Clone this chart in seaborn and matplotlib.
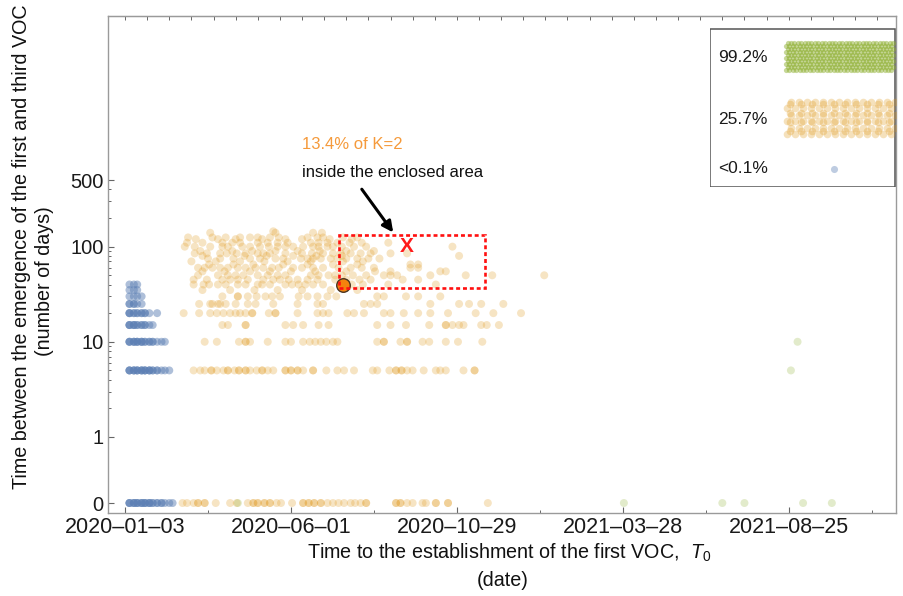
import numpy as np
import pandas as pd
import matplotlib
matplotlib.use("Agg")
import matplotlib.pyplot as plt
import matplotlib.dates as mdates
import matplotlib.ticker as mticker
from matplotlib.patches import Rectangle
import seaborn as sns

sns.set_style("white")
plt.rcParams["font.family"] = ["Liberation Sans", "DejaVu Sans"]
plt.rcParams["mathtext.fontset"] = "custom"
plt.rcParams["mathtext.rm"] = "Liberation Sans"
plt.rcParams["mathtext.it"] = "Liberation Sans:italic"

START = pd.Timestamp("2020-01-03")

BLUE = "#5E81B5"
ORANGE = "#E19C24"
GREEN = "#8FB032"

# ---------------------------------------------------------------------------
# Simulated runs: T0 (days after 2020-01-03) grouped by the gap (days) between
# the emergence of the first and third VOC.  Repeated entries are stacked runs.
# ---------------------------------------------------------------------------
blue_levels = [0, 5, 10, 15, 20, 25, 30, 35, 40]
blue_t0 = [
    [4, 4, 4, 8, 8, 8, 11, 11, 11, 15, 15, 15, 18, 18, 18, 22, 22, 22, 25, 25, 29, 29, 33, 33, 36, 40, 43],
    [4, 4, 4, 8, 8, 8, 11, 11, 11, 15, 15, 15, 18, 18, 18, 22, 22, 22, 25, 25, 29, 29, 33, 36, 40],
    [4, 4, 4, 8, 8, 8, 11, 11, 11, 15, 15, 15, 18, 18, 22, 22, 25, 25, 29, 33, 36],
    [4, 4, 4, 8, 8, 8, 11, 11, 15, 15, 18, 18, 22, 25],
    [4, 4, 4, 8, 8, 11, 11, 15, 15, 18, 18, 22, 29],
    [4, 4, 8, 8, 11, 15],
    [4, 8, 11, 15],
    [4, 8, 11],
    [4, 8, 11],
]

orange_levels = [0, 5, 10, 15, 20, 25, 30, 35, 40, 45, 50, 55, 60, 65, 70, 75, 80, 85, 90,
                 100, 110, 120, 125, 140, 145]
orange_t0 = [
    [52, 56, 62, 66, 66, 72, 72, 82, 95, 101, 111, 116, 116, 120, 120, 126, 126, 131, 131, 137, 141,
     151, 161, 161, 166, 166, 171, 171, 177, 177, 183, 188, 193, 198, 204, 208, 213, 218, 218,
     245, 245, 249, 249, 255, 260, 269, 272, 281, 281, 292, 292, 328],
    [62, 68, 72, 78, 78, 83, 89, 93, 93, 99, 103, 103, 109, 109, 113, 119, 124, 124, 129, 134, 145,
     145, 150, 150, 156, 156, 161, 170, 170, 182, 192, 198, 207, 224, 228, 239, 245, 245, 250, 250,
     255, 260, 270, 281, 285, 290, 306, 316, 316],
    [72, 83, 103, 109, 109, 113, 129, 145, 150, 161, 167, 172, 177, 182, 188, 192, 228, 234, 234,
     249, 255, 255, 269, 275, 290, 301, 323],
    [88, 93, 109, 109, 145, 152, 161, 175, 184, 228, 240, 254, 275, 290, 290, 296, 302, 306, 322,
     327, 338],
    [53, 67, 77, 83, 89, 95, 100, 104, 109, 115, 115, 130, 136, 136, 156, 174, 179, 184, 201, 207,
     216, 234, 240, 252, 265, 276, 292, 317, 333, 358],
    [67, 77, 79, 84, 86, 91, 100, 111, 118, 134, 156, 174, 179, 216, 222, 228, 276, 302, 311, 322, 342],
    [88, 102, 102, 111, 119, 127, 133, 140, 157, 165, 174, 183, 191, 228, 234, 254, 265, 285],
    [70, 95, 117, 138, 160, 186, 210],
    [62, 71, 76, 84, 91, 102, 109, 120, 124, 131, 145, 151, 157, 163, 170, 179, 205, 215, 238, 281],
    [62, 74, 88, 95, 102, 111, 125, 134, 140, 148, 156, 165, 174, 190, 200, 212, 222, 251, 265],
    [66, 84, 93, 100, 107, 120, 129, 138, 145, 168, 175, 184, 190, 196, 206, 218, 234, 240, 246,
     276, 308, 332, 379],
    [70, 90, 113, 131, 150, 172, 200, 226, 240, 285, 290],
    [66, 72, 79, 86, 93, 102, 109, 118, 125, 133, 139, 152, 160, 170, 179, 193, 204, 214, 225, 258,
     265],
    [76, 98, 116, 143, 165, 188, 210, 258, 265],
    [60, 82, 104, 126, 147, 168, 197, 215],
    [75, 86, 98, 113, 122, 136, 143, 159, 165, 170, 177, 186, 192, 200, 210, 220, 230],
    [70, 108, 128, 152, 173, 196, 302],
    [63, 74, 86, 92, 101, 109, 120, 125, 131, 145, 160, 169, 179, 188, 195, 204, 213, 222, 240, 255],
    [68, 97, 115, 136, 156, 176, 200, 225],
    [54, 63, 77, 88, 93, 106, 113, 122, 130, 138, 145, 152, 161, 170, 175, 183, 188, 196, 207, 218, 296],
    [56, 70, 88, 97, 104, 120, 129, 138, 147, 168, 175, 183, 192, 203, 214, 238],
    [64, 84, 100, 124, 145, 160, 185, 205],
    [57, 79, 91, 104, 113, 120, 131, 139, 165, 174, 179, 197, 210],
    [77, 136, 170, 178],
    [134],
]

green_levels = [0, 5, 10]
green_t0 = [
    [102, 451, 540, 560, 613, 639],
    [602],
    [608],
]

# highlighted K=2 run and the enclosed region
highlight_t0, highlight_gap = 197, 40
region_t0 = [193, 325]
region_gap = [37, 134]
target_t0, target_gap = 255, 100

legend_labels = ["99.2%", "25.7%", "<0.1%"]
x_tick_days = [0, 150, 300, 450, 600]
y_major = [0, 1, 10, 100, 500]
y_minor = [2, 3, 4, 5, 6, 7, 8, 9, 20, 30, 40, 50, 60, 70, 80, 90, 200, 300, 400]


def to_frame(levels, t0_lists):
    rows = [(START + pd.Timedelta(days=d), g) for g, ds in zip(levels, t0_lists) for d in ds]
    return pd.DataFrame(rows, columns=["T0", "gap"])


blue_df = to_frame(blue_levels, blue_t0)
orange_df = to_frame(orange_levels, orange_t0)
green_df = to_frame(green_levels, green_t0)

W, H = 904, 596
fig = plt.figure(figsize=(W / 100, H / 100), dpi=100)
ax = fig.add_axes([108 / W, 1 - 513 / H, (896 - 108) / W, (513 - 16) / H])
ax.set_yscale("symlog", linthresh=1, linscale=0.6255)

sns.scatterplot(data=orange_df, x="T0", y="gap", color=ORANGE, alpha=0.27, s=33,
                edgecolor="none", linewidth=0, ax=ax, legend=False)
sns.scatterplot(data=blue_df, x="T0", y="gap", color=BLUE, alpha=0.5, s=33,
                edgecolor="none", linewidth=0, ax=ax, legend=False)
sns.scatterplot(data=green_df, x="T0", y="gap", color=GREEN, alpha=0.25, s=33,
                edgecolor="none", linewidth=0, ax=ax, legend=False)

# highlighted run
ax.scatter([START + pd.Timedelta(days=highlight_t0)], [highlight_gap], s=95,
           color="#F5820D", edgecolor="#4a3520", linewidth=1.0, zorder=5)

# enclosed area
r0 = mdates.date2num(START + pd.Timedelta(days=region_t0[0]))
r1 = mdates.date2num(START + pd.Timedelta(days=region_t0[1]))
ax.add_patch(Rectangle((r0, region_gap[0]), r1 - r0, region_gap[1] - region_gap[0],
                       fill=False, edgecolor="#FF1010", linewidth=1.9,
                       linestyle=(0, (1.5, 1.1)), zorder=6))
ax.text(START + pd.Timedelta(days=target_t0), target_gap, "X", color="#FF1A1A",
        fontsize=15, fontweight="bold", ha="center", va="center", zorder=7)

# axis limits and scales
ax.set_xlim(START - pd.Timedelta(days=15.4), START + pd.Timedelta(days=697))
ax.set_ylim(-0.151, 26600)

xt = [mdates.date2num(START + pd.Timedelta(days=d)) for d in x_tick_days]
ax.xaxis.set_major_locator(mticker.FixedLocator(xt))
ax.xaxis.set_major_formatter(mticker.FixedFormatter(
    [(START + pd.Timedelta(days=d)).strftime("%Y–%m–%d") for d in x_tick_days]))
ax.xaxis.set_minor_locator(mticker.FixedLocator(
    [mdates.date2num(START + pd.Timedelta(days=d + 75)) for d in x_tick_days]))
ax.yaxis.set_major_locator(mticker.FixedLocator(y_major))
ax.yaxis.set_major_formatter(mticker.FixedFormatter([str(v) for v in y_major]))
ax.yaxis.set_minor_locator(mticker.FixedLocator(y_minor))

ax.tick_params(axis="both", which="both", bottom=True, left=True, top=False, right=False)
ax.tick_params(axis="both", which="major", direction="in", length=4.5, width=0.8,
               color="#666666", labelcolor="#1a1a1a", pad=3)
ax.tick_params(axis="both", which="minor", direction="in", length=2.5, width=0.7,
               color="#666666")
ax.tick_params(axis="x", which="major", labelsize=15.5)
ax.tick_params(axis="y", which="major", labelsize=14.5)
ax.set_xlabel("")
ax.set_ylabel("")
for sp in ax.spines.values():
    sp.set_color("#9a9a9a")
    sp.set_linewidth(1.0)

# top frame ticks every 20 days
top = ax.secondary_xaxis("top")
top.set_xticks([mdates.date2num(START + pd.Timedelta(days=d)) for d in range(0, 700, 20)])
top.tick_params(axis="x", which="major", top=True, bottom=False, direction="in", length=3,
                width=0.7, color="#666666", labeltop=False, labelbottom=False)
top.spines["top"].set_color("#9a9a9a")

# annotation
ax.text(0.246, 0.742, "13.4% of K=2", transform=ax.transAxes, color="#F59A3B",
        fontsize=12, ha="left", va="center")
ax.text(0.246, 0.686, "inside the enclosed area", transform=ax.transAxes, color="#111111",
        fontsize=12, ha="left", va="center")
ax.annotate("", xy=(0.364, 0.560), xytext=(0.320, 0.656), xycoords="axes fraction",
            arrowprops=dict(arrowstyle="-|>", color="black", lw=2.2, mutation_scale=16))

# legend box
leg = ax.inset_axes([(710 - 108) / 788, (513 - 187) / 497, 186 / 788, 159 / 497])
leg.set_xlim(0, 186)
leg.set_ylim(0, 159)
leg.axis("off")
leg.add_patch(Rectangle((0.5, 0.5), 184.5, 158, fill=False, edgecolor="#555555", linewidth=1.1))
gx, gy = np.meshgrid(np.arange(76, 183, 3.4), np.arange(117, 146, 3.0))
gx = gx + (np.arange(gx.shape[0])[:, None] % 2) * 1.7
leg.scatter(gx.ravel(), gy.ravel(), s=14, color=GREEN, alpha=0.5, linewidth=0)
ox, oy = np.meshgrid(np.arange(77, 182, 8.0), np.arange(53, 86, 6.4))
ox = ox + (np.arange(ox.shape[0])[:, None] % 2) * 4.0
leg.scatter(ox.ravel(), oy.ravel(), s=30, color=ORANGE, alpha=0.3, linewidth=0)
px, py = np.meshgrid(np.arange(80, 182, 11.0), np.arange(56, 84, 9.0))
leg.scatter(px.ravel(), py.ravel(), s=30, color=ORANGE, alpha=0.3, linewidth=0)
leg.scatter([124], [18], s=26, color=BLUE, alpha=0.4, linewidth=0)
for lab, yy in zip(legend_labels, [130, 68, 19]):
    leg.text(8, yy, lab, fontsize=12.5, color="#1a1a1a", ha="left", va="center")

# axis titles
fig.text(22 / W, 1 - 247 / H, "Time between the emergence of the first and third VOC",
         rotation=90, ha="center", va="center", fontsize=14.2, color="#111111")
fig.text(45 / W, 1 - 281 / H, "(number of days)", rotation=90, ha="center", va="center",
         fontsize=14.2, color="#111111")
fig.text(509 / W, 1 - 553 / H, "Time to the establishment of the first VOC,  $T_0$",
         ha="center", va="center", fontsize=14.2, color="#111111")
fig.text(503 / W, 1 - 580 / H, "(date)", ha="center", va="center", fontsize=14.2,
         color="#111111")

fig.savefig("out.png", dpi=100)
